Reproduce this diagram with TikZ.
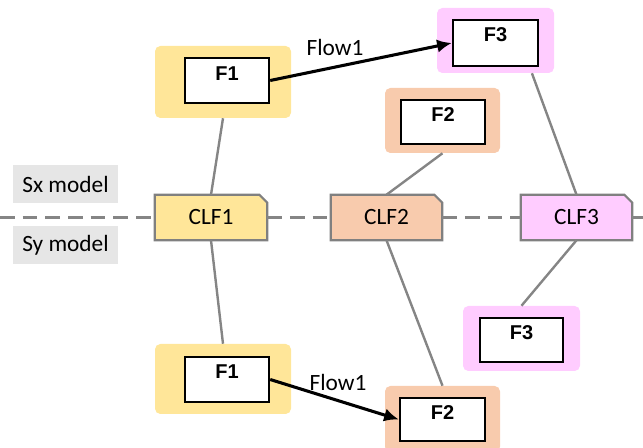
\documentclass[tikz,border=0pt]{standalone}
\usepackage{fontspec}
\setmainfont{Carlito}
\newfontfamily\boxfont{Liberation Sans}
\usetikzlibrary{arrows.meta,calc}
\pgfdeclarelayer{background}
\pgfsetlayers{background,main}

\definecolor{fyellow}{HTML}{FFE699}
\definecolor{forange}{HTML}{F8CBAD}
\definecolor{fpink}{HTML}{FFCCFF}
\definecolor{lblgray}{HTML}{E6E6E6}
\definecolor{linegray}{HTML}{858585}
\definecolor{clfborder}{HTML}{808080}

\tikzset{
  group/.style={fill=#1, rounded corners=4pt, inner sep=0pt},
  fbox/.style={draw=black, line width=1.8pt, fill=white, inner sep=0pt,
    minimum width=63pt, minimum height=33.75pt},
  ftext/.style={font=\boxfont\bfseries\fontsize{15}{17}\selectfont,
    anchor=base, inner sep=0pt},
  clf/.style={minimum width=84pt, minimum height=33.75pt, inner sep=0pt,
    font=\fontsize{17.5}{20}\selectfont},
  clfshape/.style={fill=#1, draw=clfborder, line width=1.6pt},
  model/.style={fill=lblgray, minimum width=78.75pt, minimum height=28.5pt,
    inner sep=0pt, font=\fontsize{17.5}{20}\selectfont},
  link/.style={draw=linegray, line width=1.8pt},
  divider/.style={draw=linegray, line width=2.2pt, dash pattern=on 11pt off 6pt},
  flow/.style={draw=black, line width=2.3pt, -{Latex[length=11pt,width=10pt]}},
  flowlabel/.style={font=\fontsize{17.5}{20}\selectfont, inner sep=0pt},
}

% draws the outline of a CLF node: a rectangle with its top right corner cut off
\newcommand\clfoutline[2]{%
  \begin{pgfonlayer}{background}
    \path[clfshape=#2] (#1.south west) -- (#1.north west)
      -- ([xshift=-6pt]#1.north east) -- ([yshift=-6pt]#1.north east)
      -- (#1.south east) -- cycle;
  \end{pgfonlayer}}

\begin{document}
\begin{tikzpicture}[x=0.75pt, y=-0.75pt]
  \useasboundingbox (0,0) rectangle (643,448);

  % model labels
  \node[model] (sx) at (65.5,184) {Sx model};
  \node[model] (sy) at (65.5,245) {Sy model};

  % CLF nodes on the model boundary
  \node[clf] (clf1) at (211,217.5) {CLF1};
  \node[clf, minimum width=83.25pt] (clf2) at (386.5,217.5) {CLF2};
  \node[clf, minimum width=83.25pt] (clf3) at (576.5,217.5) {CLF3};
  \clfoutline{clf1}{fyellow}
  \clfoutline{clf2}{forange}
  \clfoutline{clf3}{fpink}

  % dashed boundary between the two models
  \coordinate (lend) at (0,217.5);
  \coordinate (rend) at (643,217.5);
  \draw[divider] (lend) -- (clf1.west);
  \draw[divider] (clf1.east) -- (clf2.west);
  \draw[divider] (clf2.east) -- (clf3.west);
  \draw[divider] (clf3.east) -- (rend);

  % Sx model functions
  \node[group=fyellow, minimum width=102pt, minimum height=54pt] (g1t) at (223,82) {};
  \node[fbox] (f1t) at (227,80.5) {};
  \node[ftext] (f1tl) at ([yshift=-18pt]f1t.north) {F1};

  \node[group=fpink, minimum width=87.75pt, minimum height=48.75pt] (g3t) at (495.5,40.5) {};
  \node[fbox, minimum width=63.75pt, minimum height=34.5pt] (f3t) at (495.5,43) {};
  \node[ftext] (f3tl) at ([yshift=-17.25pt]f3t.north) {F3};

  \node[group=forange, minimum width=86.25pt, minimum height=48.75pt] (g2t) at (442.5,120.5) {};
  \node[fbox, minimum height=33pt] (f2t) at (443,122) {};
  \node[ftext] (f2tl) at ([yshift=-17.25pt]f2t.north) {F2};

  % Sy model functions
  \node[group=fyellow, minimum width=102pt, minimum height=52.5pt] (g1b) at (223,379) {};
  \node[fbox] (f1b) at (227,379.5) {};
  \node[ftext] (f1bl) at ([yshift=-17pt]f1b.north) {F1};

  \node[group=fpink, minimum width=87.75pt, minimum height=48.75pt] (g3b) at (521.5,338.5) {};
  \node[fbox, minimum width=62.25pt, minimum height=33pt] (f3b) at (521.5,340) {};
  \node[ftext] (f3bl) at ([yshift=-17.25pt]f3b.north) {F3};

  \node[group=forange, minimum width=86.25pt, minimum height=49.5pt] (g2b) at (442.5,419) {};
  \node[fbox, minimum width=63.75pt, minimum height=32.25pt] (f2b) at (442.5,419.5) {};
  \node[ftext] (f2bl) at ([yshift=-17.25pt]f2b.north) {F2};

  % links from functions to CLFs
  \draw[link] (g1t.south) -- (clf1.north);
  \draw[link] (clf1.south) -- (g1b.north);
  \draw[link] (g2t.south) -- (clf2.north);
  \draw[link] (clf2.south) -- (g2b.north);
  \draw[link] ($(g3t.south west)!0.81!(g3t.south east)$) -- (clf3.north);
  \draw[link] (clf3.south) -- (g3b.north);

  % flows
  \draw[flow] (f1t.east) -- (f3t.west);
  \node[flowlabel] (fl1) at (335,47) {Flow1};
  \draw[flow] (f1b.east) -- (f2b.west);
  \node[flowlabel] (fl2) at (338,382) {Flow1};
\end{tikzpicture}
\end{document}
